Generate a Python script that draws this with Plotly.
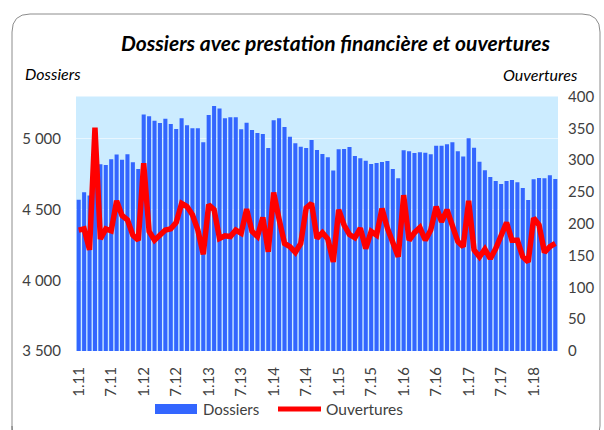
import plotly.graph_objects as go

# Monthly categories 1.11 .. 5.18
months = [f"{m}.{y}" for y in range(11, 19) for m in range(1, 13)][:89]

dossiers = [
    4570, 4623, 4600, 4760, 4820, 4816, 4856, 4889, 4853, 4891, 4835, 4787,
    5172, 5160, 5129, 5113, 5143, 5106, 5070, 5146, 5096, 5075, 5075, 4976,
    5169, 5233, 5216, 5146, 5153, 5153, 5068, 5115, 5063, 5042, 5035, 4936,
    5132, 5146, 5084, 5016, 4969, 4945, 4936, 4993, 4922, 4894, 4870, 4776,
    4927, 4929, 4943, 4879, 4863, 4846, 4823, 4830, 4837, 4844, 4787, 4721,
    4919, 4912, 4901, 4905, 4903, 4891, 4952, 4952, 4962, 4976, 4912, 4875,
    5004, 4938, 4839, 4778, 4731, 4703, 4681, 4703, 4710, 4693, 4653, 4568,
    4714, 4724, 4721, 4743, 4717,
]

ouvertures = [
    190, 192, 159, 351, 176, 192, 189, 236, 213, 206, 182, 174,
    295, 188, 174, 181, 190, 192, 202, 232, 227, 214, 190, 152,
    230, 222, 177, 181, 180, 190, 185, 223, 188, 180, 210, 156,
    249, 207, 169, 164, 155, 169, 225, 232, 177, 186, 176, 140,
    222, 198, 183, 178, 193, 161, 188, 182, 224, 193, 169, 148,
    245, 174, 186, 194, 174, 190, 227, 203, 222, 195, 172, 164,
    236, 159, 148, 160, 145, 161, 182, 202, 174, 174, 148, 140,
    209, 198, 155, 164, 169,
]

tick_labels = ["1.11", "7.11", "1.12", "7.12", "1.13", "7.13", "1.14", "7.14",
               "1.15", "7.15", "1.16", "7.16", "1.17", "7.17", "1.18"]
left_ticks = [3500, 4000, 4500, 5000]
right_ticks = [0, 50, 100, 150, 200, 250, 300, 350, 400]

W, H = 604, 430
FONT = "Lato"
TXT = "#404040"


def px(x):
    return x / W


def py(y):
    return 1 - y / H


fig = go.Figure()
fig.add_trace(go.Bar(
    x=months, y=dossiers, name="Dossiers", yaxis="y",
    marker=dict(color="#3366FF", line=dict(width=0)),
    showlegend=False,
))
fig.add_trace(go.Scatter(
    x=months, y=ouvertures, name="Ouvertures", yaxis="y2", mode="lines",
    line=dict(color="#FF0000", width=5.5),
    showlegend=False,
))

# outer rounded border
bl, bt, br, bb, r = 12, 14, 600, 444, 18
path = (f"M {px(bl)},{py(bb)} L {px(bl)},{py(bt + r)} Q {px(bl)},{py(bt)} {px(bl + r)},{py(bt)} "
        f"L {px(br - r)},{py(bt)} Q {px(br)},{py(bt)} {px(br)},{py(bt + r)} "
        f"L {px(br)},{py(bb - r)} Q {px(br)},{py(bb)} {px(br - r)},{py(bb)} "
        f"L {px(bl + r)},{py(bb)} Q {px(bl)},{py(bb)} {px(bl)},{py(bb - r)} Z")

shapes = [
    dict(type="path", xref="paper", yref="paper", path=path,
         line=dict(color="#8c8c8c", width=1), fillcolor="rgba(0,0,0,0)", layer="above"),
    # legend swatches
    dict(type="rect", xref="paper", yref="paper",
         x0=px(155), x1=px(197), y0=py(414), y1=py(404),
         fillcolor="#3366FF", line=dict(width=0)),
    dict(type="line", xref="paper", yref="paper",
         x0=px(278), x1=px(321), y0=py(409), y1=py(409),
         line=dict(color="#FF0000", width=5)),
]

annotations = [
    dict(text="<b><i>Dossiers avec prestation financière et ouvertures</i></b>",
         x=px(336), y=py(42), xref="paper", yref="paper", showarrow=False,
         xanchor="center", yanchor="middle", font=dict(family=FONT, size=21, color="#000000")),
    dict(text="<i>Dossiers</i>", x=px(23), y=py(73), xref="paper", yref="paper",
         showarrow=False, xanchor="left", yanchor="middle",
         font=dict(family=FONT, size=16, color="#000000")),
    dict(text="<i>Ouvertures</i>", x=px(580), y=py(75), xref="paper", yref="paper",
         showarrow=False, xanchor="right", yanchor="middle",
         font=dict(family=FONT, size=16, color="#000000")),
    dict(text="Dossiers", x=px(201), y=py(409), xref="paper", yref="paper",
         showarrow=False, xanchor="left", yanchor="middle",
         font=dict(family=FONT, size=15, color=TXT)),
    dict(text="Ouvertures", x=px(324), y=py(409), xref="paper", yref="paper",
         showarrow=False, xanchor="left", yanchor="middle",
         font=dict(family=FONT, size=15.5, color=TXT)),
]

fig.update_layout(
    width=W, height=H,
    margin=dict(l=0, r=0, t=0, b=0, pad=0, autoexpand=False),
    paper_bgcolor="white",
    plot_bgcolor="#CCECFF",
    bargap=0.25,
    separators=", ",
    showlegend=False,
    hovermode=False,
    shapes=shapes,
    annotations=annotations,
    xaxis=dict(
        domain=[px(76), px(558)], type="category", automargin=False,
        categoryorder="array", categoryarray=months,
        range=[-0.5, len(months) - 0.5],
        tickmode="array", tickvals=tick_labels, ticktext=tick_labels,
        tickangle=-90, ticklabelstandoff=12,
        tickfont=dict(family=FONT, size=15, color=TXT),
        showgrid=False, showline=False, zeroline=False, ticks="",
    ),
    yaxis=dict(
        domain=[1 - 351 / H, 1 - 96.5 / H], range=[3500, 5300], automargin=False,
        tickmode="array", tickvals=left_ticks, tickformat=",.0f",
        tickfont=dict(family=FONT, size=15, color=TXT),
        ticklabelstandoff=14,
        showgrid=True, gridcolor="rgba(255,255,255,0.55)", gridwidth=1,
        zeroline=False, showline=False, ticks="",
    ),
    yaxis2=dict(
        overlaying="y", side="right", range=[0, 400], automargin=False,
        tickmode="array", tickvals=right_ticks,
        tickfont=dict(family=FONT, size=15, color=TXT),
        ticklabelstandoff=9,
        showgrid=False, zeroline=False, showline=False, ticks="",
    ),
)

fig.write_html(
    "out.html",
    config={"displayModeBar": False},
    post_script="document.body.style.margin='0';document.body.style.overflow='hidden';",
)
